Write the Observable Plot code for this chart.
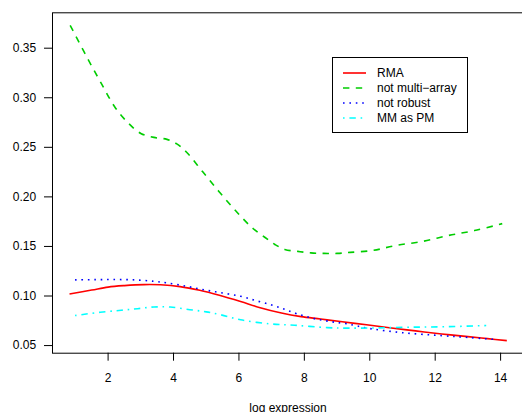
<!DOCTYPE html>
<html>
<head>
<meta charset="utf-8">
<script src="https://cdn.jsdelivr.net/npm/d3@7"></script>
<script src="https://cdn.jsdelivr.net/npm/@observablehq/plot@0.6"></script>
<style>
  html, body { margin: 0; padding: 0; background: white; }
  #wrap { position: relative; width: 522px; height: 412px; overflow: hidden; font-family: "Liberation Sans", Arial, sans-serif; }
  #legend { position: absolute; left: 332px; top: 57px; width: 134px; height: 74px; border: 1px solid #000; background: white; }
  .item { position: absolute; left: 10px; height: 15px; display: flex; align-items: center; font-size: 12px; color: #000; }
  .item svg { margin-right: 11px; }
</style>
</head>
<body>
<div id="wrap"><div id="legend"></div></div>
<script>
// ---- data ----
const seriesNames = ["RMA", "not multi\u2212array", "not robust", "MM as PM"];

const rmaX = [0.82, 1.5, 2.0, 2.5, 3.1, 3.6, 4.2, 4.8, 5.4, 6.05, 6.65, 7.3, 7.9, 8.5, 9.1, 9.9, 10.6, 11.4, 12.2, 13.0, 13.6, 14.19];
const rmaY = [0.102, 0.106, 0.109, 0.1105, 0.1115, 0.1113, 0.1095, 0.1058, 0.1008, 0.0945, 0.0882, 0.0828, 0.0792, 0.0768, 0.0742, 0.0710, 0.0679, 0.0648, 0.0617, 0.0590, 0.0570, 0.0550];

const nmaX = [0.84, 1.0, 1.4, 1.8, 2.2, 2.6, 3.0, 3.4, 3.8, 4.1, 4.4, 4.9, 5.4, 5.9, 6.4, 6.8, 7.1, 7.4, 7.8, 8.2, 8.6, 9.0, 9.4, 10.1, 10.8, 11.6, 12.4, 13.2, 14.05];
const nmaY = [0.373, 0.363, 0.338, 0.314, 0.291, 0.275, 0.264, 0.260, 0.258, 0.2535, 0.245, 0.225, 0.205, 0.186, 0.169, 0.159, 0.152, 0.147, 0.145, 0.1435, 0.143, 0.143, 0.144, 0.146, 0.151, 0.155, 0.161, 0.166, 0.173];

const nrX = [0.99, 1.6, 2.2, 2.8, 3.4, 3.8, 4.4, 4.95, 5.5, 6.05, 6.5, 7.0, 7.4, 7.8, 8.3, 8.8, 9.3, 10.0, 11.0, 12.2, 13.0, 13.9];
const nrY = [0.1163, 0.1165, 0.1166, 0.1163, 0.1148, 0.1132, 0.1098, 0.1062, 0.1030, 0.0997, 0.0955, 0.0910, 0.0865, 0.0818, 0.0772, 0.0742, 0.0719, 0.0672, 0.0630, 0.0600, 0.0582, 0.0560];

const mmX = [0.99, 1.76, 2.4, 2.9, 3.4, 3.9, 4.5, 5.0, 5.45, 6.05, 6.95, 7.7, 8.7, 9.3, 10.2, 11.2, 12.3, 13.56];
const mmY = [0.0803, 0.0836, 0.0856, 0.0872, 0.0889, 0.0889, 0.0862, 0.0840, 0.0810, 0.0760, 0.0719, 0.0705, 0.0681, 0.0676, 0.0678, 0.0685, 0.069, 0.0702];

const xTicks = [2, 4, 6, 8, 10, 12, 14];
const yTicks = [0.05, 0.10, 0.15, 0.20, 0.25, 0.30, 0.35];
const xLabel = "log expression";

// ---- styles ----
const styles = [
  {stroke: "#FF0000", dash: null},
  {stroke: "#00CD00", dash: "6.4,6.4"},
  {stroke: "#0000FF", dash: "1.6,4.8"},
  {stroke: "#00FFFF", dash: "1.6,4.8,6.4,4.8"}
];

const toRows = (xs, ys) => xs.map((x, i) => ({x, y: ys[i]}));
const series = [toRows(rmaX, rmaY), toRows(nmaX, nmaY), toRows(nrX, nrY), toRows(mmX, mmY)];

const chart = Plot.plot({
  width: 522,
  height: 412,
  marginLeft: 52,
  marginRight: -1,
  marginTop: 12.3,
  marginBottom: 59.3,
  x: {domain: [0.3, 14.7]},
  y: {domain: [0.0423, 0.3857]},
  style: {fontFamily: "'Liberation Sans', Arial, sans-serif", fontSize: "12px", color: "#000", background: "white", overflow: "visible"},
  marks: [
    Plot.frame({stroke: "#000", strokeWidth: 1}),
    Plot.axisX({ticks: xTicks, tickSize: 8, tickPadding: 11.8, label: null, tickFormat: d => String(d), fontSize: 12}),
    Plot.axisY({ticks: yTicks, tickSize: 8, tickPadding: 8.3, label: null, tickFormat: d3.format(".2f"), fontSize: 12}),
    Plot.text([xLabel], {frameAnchor: "bottom", lineAnchor: "middle", dy: 55, text: d => d, fontSize: 12, fill: "#000"}),
    ...series.map((rows, i) => Plot.line(rows, {
      x: "x", y: "y",
      stroke: styles[i].stroke,
      strokeWidth: 1.6,
      strokeDasharray: styles[i].dash,
      strokeLinecap: "butt",
      curve: "catmull-rom"
    }))
  ]
});
document.getElementById("wrap").prepend(chart);

// ---- legend ----
const legend = document.getElementById("legend");
const rowTops = [7, 22, 37, 52];
seriesNames.forEach((name, i) => {
  const item = document.createElement("div");
  item.className = "item";
  item.style.top = rowTops[i] + "px";
  const s = styles[i];
  item.innerHTML = `<svg width="23" height="6"><line x1="0" x2="23" y1="3" y2="3" stroke="${s.stroke}" stroke-width="1.6" ${s.dash ? `stroke-dasharray="${s.dash}"` : ""}/></svg><span>${name}</span>`;
  legend.appendChild(item);
});
</script>
</body>
</html>
